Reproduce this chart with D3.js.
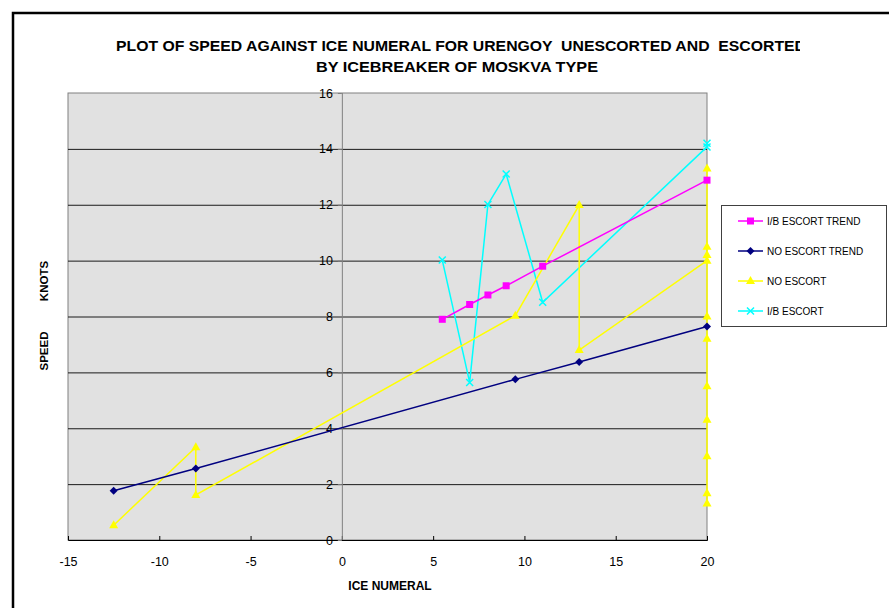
<!DOCTYPE html>
<html><head><meta charset="utf-8">
<script src="https://cdn.jsdelivr.net/npm/d3@7"></script>
<style>body{margin:0;background:#fff}svg{display:block;font-family:"Liberation Sans",Arial,sans-serif}text{white-space:pre}</style>
</head><body><svg id="c" width="889" height="608"></svg>
<script>
const titleLines = ["PLOT OF SPEED AGAINST ICE NUMERAL FOR URENGOY  UNESCORTED AND  ESCORTED", "BY ICEBREAKER OF MOSKVA TYPE"];
const xTicks = [-15, -10, -5, 0, 5, 10, 15, 20];
const yTicks = [0, 2, 4, 6, 8, 10, 12, 14, 16];
const yTitleParts = ["SPEED", "KNOTS"];
const seriesNames = ["I/B ESCORT TREND", "NO ESCORT TREND", "NO ESCORT", "I/B ESCORT"];
const seriesColors = ["#ff00ff", "#000080", "#ffff00", "#00ffff"];
const seriesMarkers = ["square", "diamond", "triangle", "x"];
const ibTrendX = [5.5, 7, 8, 9, 11, 20];
const ibTrendY = [7.9, 8.43, 8.77, 9.1, 9.8, 12.88];
const noTrendX = [-12.5, -8, 9.5, 13, 20];
const noTrendY = [1.76, 2.56, 5.75, 6.37, 7.64];
const noEscX = [-12.5, -8, -8, 9.5, 13, 13, 20, 20, 20, 20, 20, 20, 20, 20, 20, 20, 20];
const noEscY = [0.53, 3.32, 1.61, 8.03, 11.99, 6.8, 10.0, 10.2, 10.5, 13.3, 8.0, 7.2, 5.5, 4.3, 3.0, 1.67, 1.31];
const ibEscX = [5.5, 7, 8, 9, 11, 20, 20];
const ibEscY = [10.02, 5.64, 12.01, 13.1, 8.51, 14.07, 14.2];

const svg = d3.select("#c");
const x = d3.scaleLinear().domain([-15, 20]).range([68, 707]);
const y = d3.scaleLinear().domain([0, 16]).range([540, 93]);

// outer frame
svg.append("path").attr("d", "M13,608 L13,13 L889,13").attr("fill", "none").attr("stroke", "#000").attr("stroke-width", 2.5);

// title (first line clipped like the reference)
svg.append("clipPath").attr("id", "tclip").append("rect").attr("x", 0).attr("y", 0).attr("width", 800).attr("height", 90);
const tg = svg.append("g").attr("clip-path", "url(#tclip)").attr("font-weight", "bold").attr("font-size", 15);
tg.append("text").attr("x", 116).attr("y", 51).attr("textLength", 690).attr("lengthAdjust", "spacingAndGlyphs").text(titleLines[0]);
tg.append("text").attr("x", 316).attr("y", 72).attr("textLength", 282).attr("lengthAdjust", "spacingAndGlyphs").text(titleLines[1]);

// plot area
svg.append("rect").attr("x", x(-15)).attr("y", y(16)).attr("width", x(20) - x(-15)).attr("height", y(0) - y(16)).attr("fill", "#e1e1e1").attr("stroke", "#808080").attr("stroke-width", 1);

// gridlines
svg.append("g").selectAll("line").data(yTicks.filter(d => d > 0 && d < 16)).join("line")
  .attr("x1", x(-15)).attr("x2", x(20)).attr("y1", d => y(d) + 0.5).attr("y2", d => y(d) + 0.5)
  .attr("stroke", "#1a1a1a").attr("stroke-width", 1);

const fmt = d => String(d);

// x axis at y=0
const xAxis = d3.axisBottom(x).tickValues(xTicks).tickSize(-4).tickPadding(17).tickFormat(fmt);
const gx = svg.append("g").attr("transform", `translate(0,${y(0)})`).call(xAxis);
gx.attr("font-size", 12.5).attr("font-family", "Liberation Sans, Arial, sans-serif");
gx.select(".domain").attr("stroke", "#000");
gx.selectAll(".tick line").attr("stroke", "#000");
gx.selectAll("text").attr("fill", "#000");

// y axis at x=0
const yAxis = d3.axisLeft(y).tickValues(yTicks).tickSize(4).tickPadding(5).tickFormat(fmt);
const gy = svg.append("g").attr("transform", `translate(${x(0)},0)`).call(yAxis);
gy.attr("font-size", 12.5).attr("font-family", "Liberation Sans, Arial, sans-serif");
gy.select(".domain").attr("stroke", "#808080").attr("d", `M0.5,${y(16)}V${y(0)}`);
gy.selectAll(".tick line").attr("stroke", "#808080");
gy.selectAll("text").attr("fill", "#000");

// axis labels
svg.append("text").attr("x", 390).attr("y", 590).attr("text-anchor", "middle").attr("font-weight", "bold").attr("font-size", 12).text("ICE NUMERAL");
svg.append("text").attr("transform", "translate(48,351) rotate(-90)").attr("text-anchor", "middle").attr("font-weight", "bold").attr("font-size", 11.5).text(yTitleParts[0]);
svg.append("text").attr("transform", "translate(48,281) rotate(-90)").attr("text-anchor", "middle").attr("font-weight", "bold").attr("font-size", 11.5).text(yTitleParts[1]);

function marker(g, type, cx, cy, color) {
  if (type === "square") g.append("rect").attr("x", cx - 3.5).attr("y", cy - 3.5).attr("width", 7).attr("height", 7).attr("fill", color);
  else if (type === "diamond") g.append("path").attr("d", `M${cx},${cy-4}L${cx+4},${cy}L${cx},${cy+4}L${cx-4},${cy}Z`).attr("fill", color);
  else if (type === "triangle") g.append("path").attr("d", `M${cx},${cy-5}L${cx+4.5},${cy+3}L${cx-4.5},${cy+3}Z`).attr("fill", color);
  else if (type === "x") g.append("path").attr("d", `M${cx-3.5},${cy-3.5}L${cx+3.5},${cy+3.5}M${cx+3.5},${cy-3.5}L${cx-3.5},${cy+3.5}`).attr("stroke", color).attr("stroke-width", 1.5).attr("fill", "none");
}

const series = [
  {xs: ibTrendX, ys: ibTrendY},
  {xs: noTrendX, ys: noTrendY},
  {xs: noEscX, ys: noEscY},
  {xs: ibEscX, ys: ibEscY}
];
const line = d3.line().x(d => x(d[0])).y(d => y(d[1]));
[3, 2, 1, 0].forEach(i => {
  const s = series[i];
  const pts = s.xs.map((v, j) => [v, s.ys[j]]);
  const g = svg.append("g");
  g.append("path").attr("d", line(pts)).attr("fill", "none").attr("stroke", seriesColors[i]).attr("stroke-width", 1.5);
  pts.forEach(p => marker(g, seriesMarkers[i], x(p[0]), y(p[1]), seriesColors[i]));
});

// legend
const lg = svg.append("g");
lg.append("rect").attr("x", 721.5).attr("y", 205.5).attr("width", 165).attr("height", 121).attr("fill", "#fff").attr("stroke", "#404040").attr("stroke-width", 1);
seriesNames.forEach((n, i) => {
  const ly = 221 + i * 30;
  lg.append("line").attr("x1", 738).attr("x2", 763).attr("y1", ly).attr("y2", ly).attr("stroke", seriesColors[i]).attr("stroke-width", 1.5);
  marker(lg, seriesMarkers[i], 750.5, ly, seriesColors[i]);
  lg.append("text").attr("x", 767).attr("y", ly + 3.5).attr("font-size", 10).text(n);
});
</script></body></html>
